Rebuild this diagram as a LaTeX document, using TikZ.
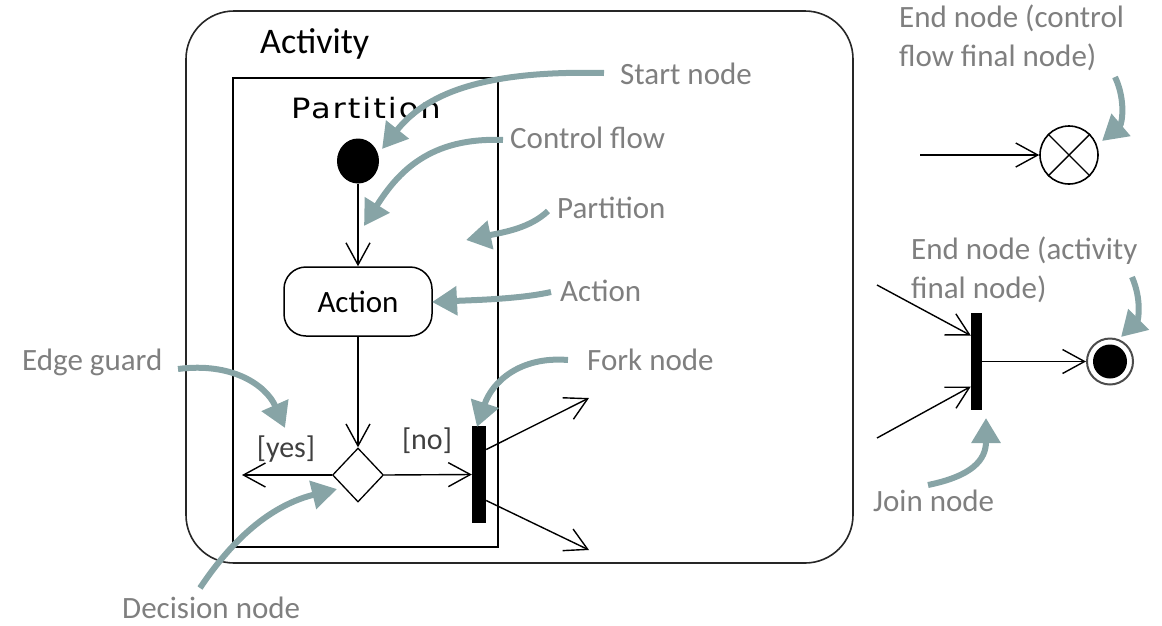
\documentclass[tikz,border=0pt]{standalone}
\usepackage{fontspec}
\setmainfont{Carlito}
\newfontfamily\partfont[LetterSpace=6]{DejaVu Sans}
\usetikzlibrary{arrows.meta,shapes.geometric}
\definecolor{lblgray}{HTML}{7F7F7F}
\definecolor{callout}{HTML}{87A4A6}
\definecolor{guardgray}{HTML}{404040}
\begin{document}
\begin{tikzpicture}[x=1pt,y=-1pt,
  lbl/.style={text=lblgray, font=\fontsize{31}{39}\selectfont, inner sep=0pt, anchor=base west},
  callarrow/.style={draw=callout, line width=6pt, -{Triangle[length=25pt,width=28pt]}},
  flow/.style={draw=black, line width=1.4pt, -{Straight Barb[length=22pt,width=24pt]}},
  plain/.style={draw=black, line width=1.4pt},
  guard/.style={text=guardgray, font=\fontsize{30}{34}\selectfont, inner sep=0pt},
  bar/.style={rectangle, fill=black, inner sep=0pt},
]
\useasboundingbox (0,0) rectangle (1162,625);

% containers
\node[draw=black!85, line width=1.6pt, rounded corners=48pt, minimum width=667pt, minimum height=552pt, inner sep=0pt] (activity) at (519.5,287) {};
\node[anchor=base west, inner sep=0pt, font=\fontsize{36}{40}\selectfont] (acttitle) at (260,53) {Activity};
\node[draw=black, line width=2.2pt, minimum width=265pt, minimum height=469pt, inner sep=0pt] (partition) at (365.5,312.5) {};
\node[anchor=base, inner sep=0pt, font={\partfont\fontsize{28}{32}\selectfont}] (ptitle) at (366,118) {\scalebox{1.15}[1]{Partition}};

% flow elements
\node[ellipse, fill=black, minimum width=42pt, minimum height=45pt, inner sep=0pt] (start) at (358,161) {};
\node[draw=black, line width=1.5pt, rounded corners=22pt, minimum width=148pt, minimum height=69pt, inner sep=0pt, font=\fontsize{31}{36}\selectfont] (action) at (358,301.5) {Action};
\node[diamond, draw=black, line width=1.3pt, minimum width=51pt, minimum height=54pt, inner sep=0pt] (dec) at (358,475) {};
\node[bar, minimum width=14pt, minimum height=97pt] (fork) at (479,474.5) {};
\coordinate (yesend) at (242,475);
\coordinate (forkout1) at (589,398);
\coordinate (forkout2) at (589,550);

\draw[flow] (start) -- (action);
\draw[flow] (action) -- (dec);
\draw[flow] (dec.west) -- (yesend);
\draw[flow] (dec.east) -- (fork.west);
\draw[flow] ([yshift=25pt]fork.east) -- (forkout1);
\draw[flow] ([yshift=-26pt]fork.east) -- (forkout2);

\node[guard] (yes) at (286,449) {[yes]};
\node[guard] (no) at (427,441) {[no]};

% control flow final
\coordinate (cfin) at (920,155);
\node[circle, draw=black, line width=1.6pt, minimum size=58pt, inner sep=0pt] (cff) at (1069,155) {};
\draw[plain] (cff.north east) -- (cff.south west);
\draw[plain] (cff.north west) -- (cff.south east);
\draw[flow] (cfin) -- (cff);

% join + activity final
\node[bar, minimum width=11pt, minimum height=97pt] (join) at (976.5,361.5) {};
\coordinate (jin1) at (877,285);
\coordinate (jin2) at (877,438);
\node[circle, draw=black!70, line width=2pt, minimum size=46pt, inner sep=0pt] (afin) at (1110,361.5) {};
\node[circle, fill=black, minimum size=34pt, inner sep=0pt] (afincore) at (afin) {};
\draw[flow] (jin1) -- ([yshift=26pt]join.west);
\draw[flow] (jin2) -- ([yshift=-25pt]join.west);
\draw[flow] (join.east) -- (afin);

% labels
\node[lbl] (lstart) at (620,84) {Start node};
\node[lbl] (lctrl) at (510,148) {Control flow};
\node[lbl] (lpart) at (557,218) {Partition};
\node[lbl] (laction) at (560,301) {Action};
\node[lbl] (lfork) at (587,370) {Fork node};
\node[lbl] (ledge) at (22,370) {Edge guard};
\node[lbl] (ldec) at (122,618) {Decision node};
\node[lbl] (ljoin) at (873,511) {Join node};
\node[lbl] (lcf1) at (899,27) {End node (control};
\node[lbl] (lcf2) at (899,66) {flow final node)};
\node[lbl] (laf1) at (911,259) {End node (activity};
\node[lbl] (laf2) at (911,298) {final node)};

% callout arrows
\coordinate (s1) at (604,73);   \coordinate (t1) at (382,149);
\coordinate (s2) at (503,140);  \coordinate (t2) at (364,226);
\coordinate (s3) at (548,211);  \coordinate (t3) at (466,240);
\coordinate (s4) at (551,292);  \coordinate (t4) at (432,302);
\coordinate (s5) at (568,360);  \coordinate (t5) at (477,427);
\coordinate (s6) at (178,369);  \coordinate (t6) at (285,428);
\coordinate (s7) at (200,588);  \coordinate (t7) at (337,489);
\coordinate (s8) at (1115,77);  \coordinate (t8) at (1102,141);
\coordinate (s9) at (1132,277); \coordinate (t9) at (1121,337);
\coordinate (s10) at (928,485); \coordinate (t10) at (986,418);

\draw[callarrow] (s1) .. controls (480,70) and (425,95) .. (t1);
\draw[callarrow] (s2) .. controls (430,137) and (398,172) .. (t2);
\draw[callarrow] (s3) .. controls (530,228) and (505,232) .. (t3);
\draw[callarrow] (s4) .. controls (520,299) and (475,300) .. (t4);
\draw[callarrow] (s5) .. controls (520,356) and (492,382) .. (t5);
\draw[callarrow] (s6) .. controls (232,362) and (266,385) .. (t6);
\draw[callarrow] (s7) .. controls (240,528) and (280,503) .. (t7);
\draw[callarrow] (s8) .. controls (1126,100) and (1122,124) .. (t8);
\draw[callarrow] (s9) .. controls (1142,300) and (1138,320) .. (t9);
\draw[callarrow] (s10) .. controls (972,476) and (986,460) .. (t10);
\end{tikzpicture}
\end{document}
